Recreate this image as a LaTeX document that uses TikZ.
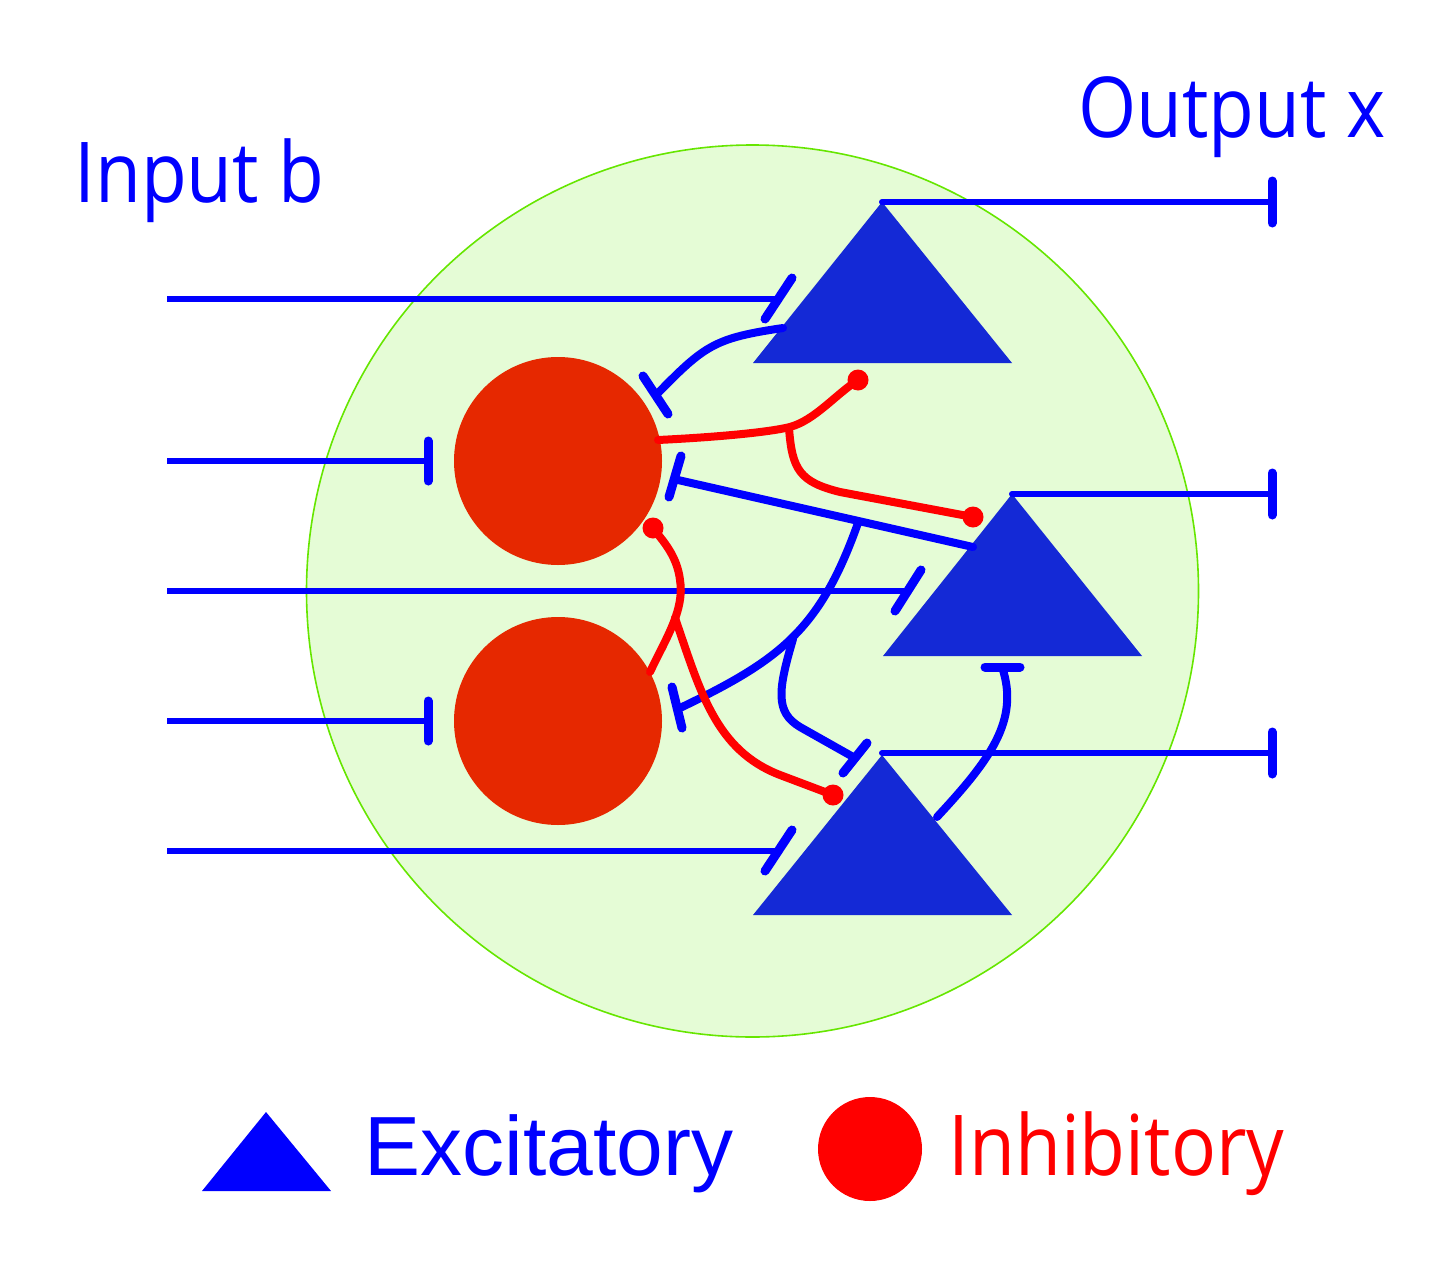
\documentclass[tikz,border=0pt]{standalone}
\usepackage{fontspec}
\setmainfont{Liberation Sans}
\newfontfamily\segoe[FakeStretch=0.89]{Open Sans}
\newfontfamily\arialf{Liberation Sans}
\definecolor{tri}{RGB}{20,41,214}
\definecolor{cir}{RGB}{230,40,0}
\definecolor{bgfill}{RGB}{229,252,214}
\definecolor{bgline}{RGB}{102,230,0}
\definecolor{pblue}{RGB}{0,0,255}
\definecolor{pred}{RGB}{255,0,0}
\begin{document}
\begin{tikzpicture}[x=0.5pt,y=-0.5pt,
  wire/.style={pblue,line width=3pt},
  bar/.style={pblue,line width=4.5pt,line cap=round},
  econn/.style={pblue,line width=4pt,line cap=round},
  iconn/.style={pred,line width=4pt,line cap=round},
  dotend/.style={pred,fill=pred,draw=none},
  label/.style={anchor=base west,inner sep=0pt,font=\segoe\fontsize{42}{50}\selectfont}]
\useasboundingbox (0,0) rectangle (1455,1279);
% background circle
\draw[bgline,fill=bgfill,line width=0.8pt] (752.5,591) circle (446);
% triangles
\coordinate (t1a) at (882,202); \coordinate (t1l) at (753,363); \coordinate (t1r) at (1012,363);
\coordinate (t2a) at (1012,494); \coordinate (t2l) at (883,656); \coordinate (t2r) at (1142,656);
\coordinate (t3a) at (882,755); \coordinate (t3l) at (753,915); \coordinate (t3r) at (1012,915);
\fill[tri] (t1a) -- (t1l) -- (t1r) -- cycle;
\fill[tri] (t2a) -- (t2l) -- (t2r) -- cycle;
\fill[tri] (t3a) -- (t3l) -- (t3r) -- cycle;
% circles
\fill[cir] (558,461) circle (104);
\fill[cir] (558,721) circle (104);
% input lines
\coordinate (i1s) at (167,299); \coordinate (i1e) at (778,299);
\coordinate (i2s) at (167,461); \coordinate (i2e) at (428,461);
\coordinate (i3s) at (167,591); \coordinate (i3e) at (908,591);
\coordinate (i4s) at (167,721); \coordinate (i4e) at (428,721);
\coordinate (i5s) at (167,851); \coordinate (i5e) at (778,851);
\draw[wire] (i1s) -- (i1e); \draw[bar] (792,278) -- (765,319);
\draw[wire] (i2s) -- (i2e); \draw[bar] (428,441) -- (428,481);
\draw[wire] (i3s) -- (i3e); \draw[bar] (921,570) -- (895,611);
\draw[wire] (i4s) -- (i4e); \draw[bar] (428,701) -- (428,741);
\draw[wire] (i5s) -- (i5e); \draw[bar] (792,830) -- (765,871);
% output lines
\coordinate (o1e) at (1272,202); \coordinate (o2e) at (1272,494); \coordinate (o3e) at (1272,753);
\draw[wire,line cap=round] (t1a) -- (o1e); \draw[bar] (1272,181) -- (1272,223);
\draw[wire,line cap=round] (t2a) -- (o2e); \draw[bar] (1272,473) -- (1272,515);
\draw[wire,line cap=round] (882,753) -- (o3e); \draw[bar] (1272,732) -- (1272,774);
% blue (excitatory) connectors
\draw[econn] (783,328) .. controls (715,338) and (705,345) .. (658,393);
\draw[bar] (643,376) -- (668,414);
\coordinate (b2s) at (973,547); \coordinate (b2e) at (678,480);
\draw[econn] (b2s) -- (b2e);
\draw[bar] (681,456) -- (669,497);
\draw[econn] (858,523) .. controls (820,630) and (780,660) .. (680,708);
\draw[bar] (672,687) -- (682,728);
\draw[econn] (793,639) .. controls (778,690) and (775,712) .. (800,727) -- (855,758);
\draw[bar] (867,743) -- (843,773);
\draw[econn] (937,817) .. controls (990,760) and (1020,720) .. (1002,667);
\draw[bar] (985,667) -- (1020,667);
% red (inhibitory) connectors
\draw[iconn] (658,440) .. controls (720,437) and (770,432) .. (790,427) .. controls (815,420) and (835,395) .. (858,380);
\fill[dotend] (858,380) circle (10.5);
\draw[iconn] (789,428) .. controls (792,470) and (800,482) .. (840,492) -- (973,517);
\fill[dotend] (973,517) circle (10.5);
\draw[iconn] (650,672) .. controls (665,640) and (685,610) .. (680,580) .. controls (677,555) and (662,540) .. (653,528);
\fill[dotend] (653,528) circle (10.5);
\draw[iconn] (675,618) .. controls (700,690) and (715,750) .. (780,775) -- (833,795);
\fill[dotend] (833,795) circle (10.5);
% labels
\node[label,text=pblue] (inl) at (74,202) {Input b};
\node[label,text=pblue] (outl) at (1078,137) {Output x};
% legend
\fill[pblue] (266,1112) -- (202,1191) -- (331,1191) -- cycle;
\node[label,text=pblue,font=\arialf\fontsize{42}{50}\selectfont] (exl) at (364,1175) {Excitatory};
\fill[pred] (870,1149) circle (52);
\node[label,text=pred] (inhl) at (948,1175) {Inhibitory};
\end{tikzpicture}
\end{document}
